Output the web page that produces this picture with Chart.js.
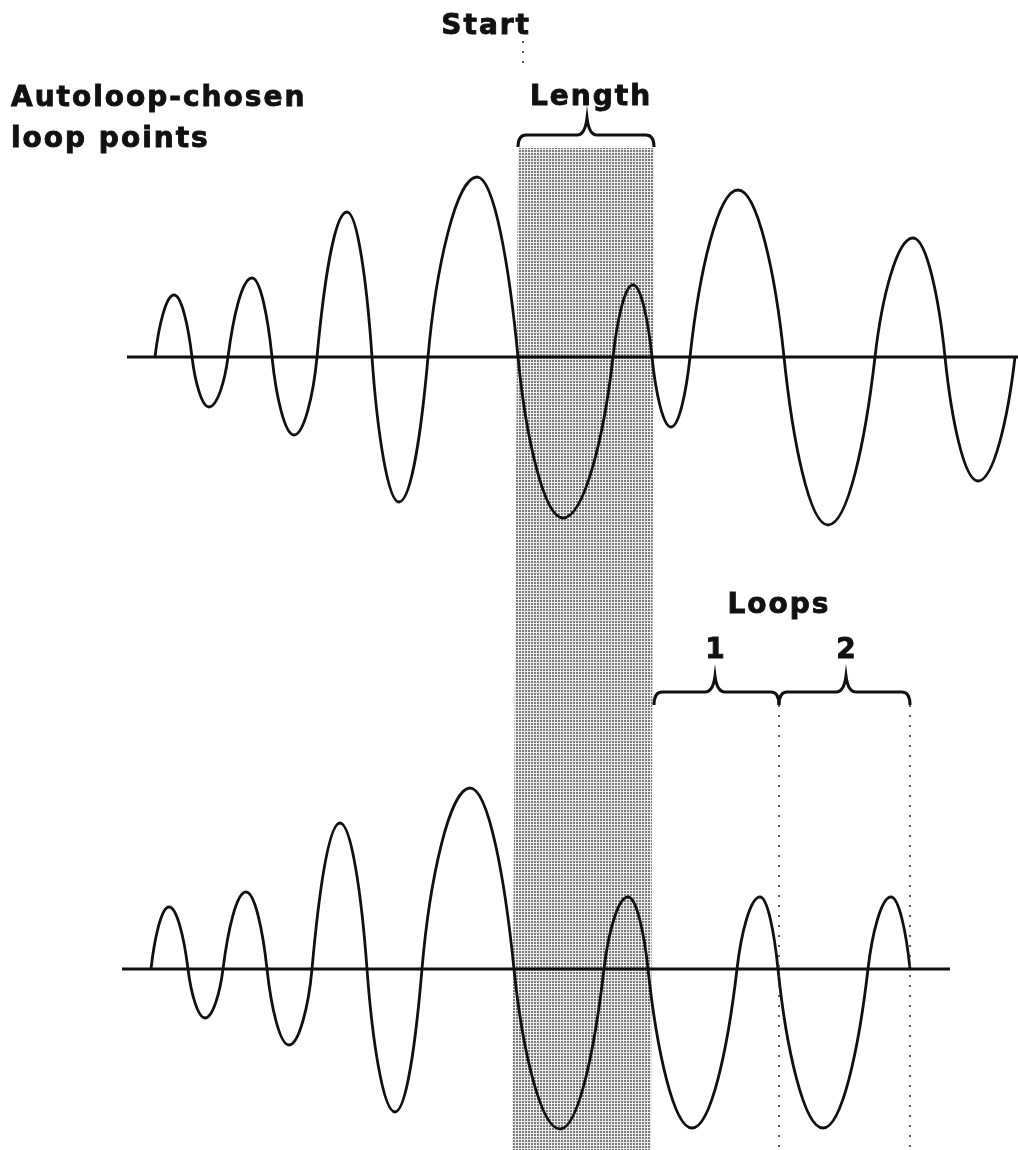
<!DOCTYPE html>
<html>
<head>
<meta charset="utf-8">
<script src="https://cdn.jsdelivr.net/npm/chart.js@4"></script>
<style>
  html, body { margin: 0; padding: 0; background: #fff; }
  #wrap { width: 1018px; height: 1150px; position: relative; }
</style>
</head>
<body>
<div id="wrap"><canvas id="loop-chart"></canvas></div>
<script>
// upper trace: sample position and amplitude at each zero crossing / peak
const topPos = [155, 174, 192, 209, 228, 252, 272, 294, 317, 347, 372, 399, 428, 477, 518, 563, 613, 633, 652, 671, 690, 738, 784, 828, 875, 913, 945, 978, 1015]
const topAmp = [0, 62, 0, -50, 0, 79, 0, -78, 0, 145, 0, -145, 0, 180, 0, -161, 0, 72, 0, -70, 0, 167, 0, -168, 0, 119, 0, -124, 0]

// lower trace: same sound, loop section repeated
const bottomPos = [151, 169, 188, 205, 223, 246, 267, 289, 312, 340, 367, 395, 422, 470, 514, 560, 604, 628, 648, 692, 737, 760, 778, 823, 868, 891, 910]
const bottomAmp = [0, 62, 0, -49, 0, 77, 0, -76, 0, 146, 0, -143, 0, 181, 0, -160, 0, 72, 0, -159, 0, 72, 0, -159, 0, 72, 0]

const topAxisSpan = [127, 1018]
const bottomAxisSpan = [122, 950]

// chosen loop start / end on each trace
const topLoop = [518, 654]
const bottomLoop = [512, 651]
// loop repeats on the lower trace
const loopEnds = [654, 779, 910]
const loopLabels = ['1', '2']
const loopTips = [715, 846]

const titleLines = ['Autoloop-chosen', 'loop points']

const FONT = 'bold 28px "DejaVu Sans"'
const INK = '#111'

// shape of the wave lobes (a bit fuller than a pure sine)
const ARCH_TOP = 0.42
const ARCH_SIDE = 0.5
const ARCH_STEEP = 2.6

function makePattern(ctx) {
    const c = document.createElement('canvas')
    c.width = 3
    c.height = 3
    const p = c.getContext('2d')
    p.fillStyle = '#ececec'
    p.fillRect(0, 0, 3, 3)
    p.fillStyle = '#7a7a7a'
    p.fillRect(0, 0, 2, 2)
    return ctx.createPattern(c, 'repeat')
}

function brace(ctx, x1, x2, xm, y, drop, rise) {
    ctx.beginPath()
    ctx.moveTo(x1, y + drop)
    ctx.quadraticCurveTo(x1, y, x1 + 8, y)
    ctx.lineTo(xm - 10, y)
    ctx.quadraticCurveTo(xm - 2, y, xm, y - rise)
    ctx.quadraticCurveTo(xm + 2, y, xm + 10, y)
    ctx.lineTo(x2 - 8, y)
    ctx.quadraticCurveTo(x2, y, x2, y + drop)
    ctx.stroke()
}

function dotted(ctx, x, y1, y2) {
    ctx.save()
    ctx.setLineDash([2, 8])
    ctx.lineWidth = 1.6
    ctx.strokeStyle = '#333'
    ctx.beginPath()
    ctx.moveTo(x, y1)
    ctx.lineTo(x, y2)
    ctx.stroke()
    ctx.restore()
}

function text(ctx, str, x, y, align) {
    ctx.textAlign = align
    ctx.fillText(str, x, y)
    ctx.strokeText(str, x, y)
}

// reshape the spline handles chart.js computed: flat at peaks, steeper at crossings
const archShape = {
    id: 'archShape',
    beforeDatasetDraw(chart, args) {
        const ds = chart.data.datasets[args.index]
        if (!ds.arch) return
        const meta = args.meta
        meta.dataset.updateControlPoints(chart.chartArea, meta.iScale.axis)
        const pts = meta.data
        for (let i = 0; i < pts.length; i++) {
            const p = pts[i], prev = pts[i - 1], next = pts[i + 1]
            if (ds.data[i].y !== 0) {
                p.cp1x = p.x - ARCH_TOP * (p.x - prev.x)
                p.cp1y = p.y
                p.cp2x = p.x + ARCH_TOP * (next.x - p.x)
                p.cp2y = p.y
            } else {
                const slopes = []
                if (prev) slopes.push((p.y - prev.y) / (p.x - prev.x))
                if (next) slopes.push((next.y - p.y) / (next.x - p.x))
                const m = ARCH_STEEP * slopes.reduce((a, b) => a + b) / slopes.length
                if (prev) {
                    const dy = ARCH_SIDE * (prev.y - p.y)
                    p.cp1x = p.x + dy / m
                    p.cp1y = p.y + dy
                }
                if (next) {
                    const dy = ARCH_SIDE * (next.y - p.y)
                    p.cp2x = p.x + dy / m
                    p.cp2y = p.y + dy
                }
            }
        }
    }
}

const annotations = {
    id: 'annotations',
    beforeDatasetsDraw(chart) {
        const ctx = chart.ctx
        const x = chart.scales.x
        const area = chart.chartArea
        // shaded loop column (scan is slightly skewed)
        ctx.save()
        ctx.fillStyle = makePattern(ctx)
        ctx.beginPath()
        ctx.moveTo(x.getPixelForValue(topLoop[0]), 148)
        ctx.lineTo(x.getPixelForValue(topLoop[1]), 148)
        ctx.lineTo(x.getPixelForValue(bottomLoop[1]), area.bottom)
        ctx.lineTo(x.getPixelForValue(bottomLoop[0]), area.bottom)
        ctx.closePath()
        ctx.fill()
        ctx.restore()
    },
    afterDatasetsDraw(chart) {
        const ctx = chart.ctx
        const x = chart.scales.x
        const px = v => x.getPixelForValue(v)
        ctx.save()
        ctx.fillStyle = INK
        ctx.strokeStyle = INK
        ctx.font = FONT
        ctx.letterSpacing = '2px'
        ctx.textBaseline = 'alphabetic'
        ctx.lineWidth = 0.9

        text(ctx, 'Start', px(topLoop[0]) + 13, 34, 'right')
        text(ctx, titleLines[0], 11, 106, 'left')
        text(ctx, titleLines[1], 11, 147, 'left')
        text(ctx, 'Length', (px(topLoop[0]) + px(topLoop[1])) / 2 + 5, 105, 'center')
        text(ctx, 'Loops', px(loopEnds[1]), 613, 'center')
        for (let i = 0; i < loopLabels.length; i++) {
            text(ctx, loopLabels[i], loopTips[i] + 1, 658, 'center')
        }

        ctx.lineWidth = 3
        brace(ctx, px(topLoop[0]), px(topLoop[1]), 587, 135, 12, 17)
        for (let i = 0; i < loopLabels.length; i++) {
            brace(ctx, px(loopEnds[i]), px(loopEnds[i + 1]), loopTips[i], 692, 13, 16)
        }

        dotted(ctx, px(topLoop[0]) + 5, 41, 68)
        dotted(ctx, px(loopEnds[1]), 705, chart.chartArea.bottom)
        dotted(ctx, px(loopEnds[2]), 705, chart.chartArea.bottom)
        ctx.restore()
    }
}

const wave = (pos, amp, axis) => ({
    data: pos.map((p, i) => ({ x: p, y: amp[i] })),
    yAxisID: axis,
    arch: true,
    borderColor: INK,
    borderWidth: 2.8,
    pointRadius: 0,
    tension: 0.4,
    fill: false
})

const baseline = (span, axis) => ({
    data: span.map(p => ({ x: p, y: 0 })),
    yAxisID: axis,
    borderColor: INK,
    borderWidth: 3,
    pointRadius: 0,
    tension: 0,
    fill: false
})

new Chart(document.getElementById('loop-chart').getContext('2d'), {
    type: 'line',
    data: {
        datasets: [
            baseline(topAxisSpan, 'yTop'),
            baseline(bottomAxisSpan, 'yBottom'),
            wave(topPos, topAmp, 'yTop'),
            wave(bottomPos, bottomAmp, 'yBottom')
        ]
    },
    options: {
        responsive: true,
        maintainAspectRatio: false,
        animation: false,
        layout: { padding: 0 },
        plugins: { legend: { display: false }, tooltip: { enabled: false } },
        elements: { line: { capBezierPoints: false } },
        scales: {
            x: { type: 'linear', min: 0, max: 1018, display: false },
            yTop: { type: 'linear', min: -793, max: 357, display: false },
            yBottom: { type: 'linear', min: -181, max: 969, display: false }
        }
    },
    plugins: [archShape, annotations]
})
</script>
</body>
</html>
